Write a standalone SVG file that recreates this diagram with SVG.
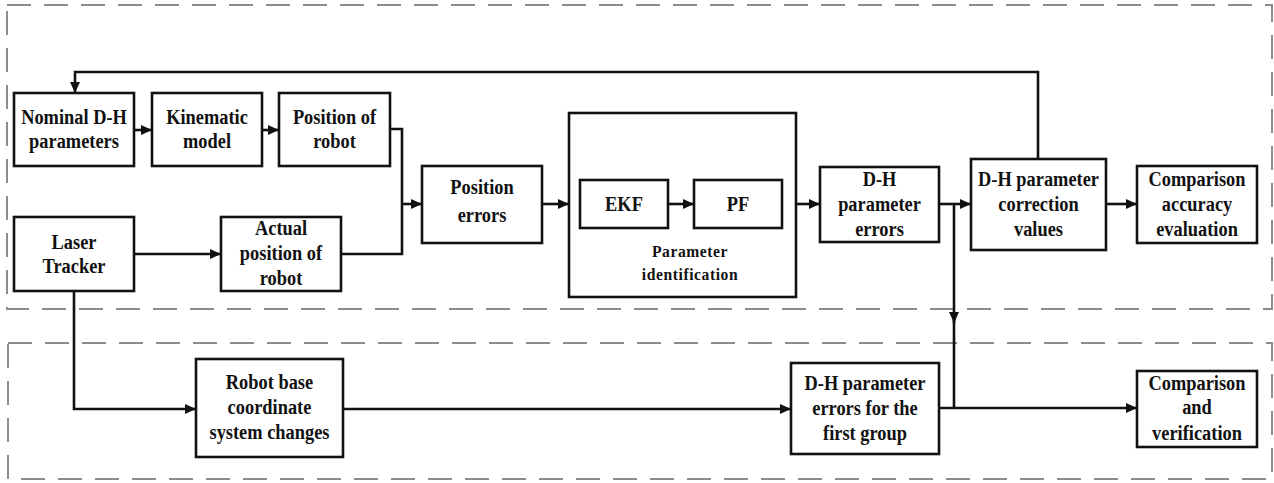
<svg xmlns="http://www.w3.org/2000/svg" width="1274" height="483" viewBox="0 0 1274 483">
<defs>
<style>
.region{fill:none;stroke:#8c8c8c;stroke-width:2;stroke-dasharray:24 13}
.box{fill:#fff;stroke:#111;stroke-width:2.6}
.t{font-family:"Liberation Serif","Times New Roman",serif;font-weight:bold;font-size:20px;fill:#111;text-anchor:middle}
.ts{font-size:17px;letter-spacing:0.6px}
.c{fill:none;stroke:#111;stroke-width:2.6}
.a{marker-end:url(#arr)}
</style>
<marker id="arr" markerUnits="userSpaceOnUse" markerWidth="12" markerHeight="10" refX="11" refY="5" orient="auto">
<path d="M0,0 L11,5 L0,10 z" fill="#111"/>
</marker>
</defs>
<rect width="1274" height="483" fill="#fff"/>
<g id="regions">
<rect class="region" x="7" y="5" width="1265" height="304"/>
<rect class="region" x="8" y="343" width="1264" height="136"/>
</g>
<g id="nominal">
<rect class="box" x="14" y="93" width="120" height="73"/>
<text class="t" transform="translate(74,124) scale(0.92,1)">Nominal D-H</text>
<text class="t" transform="translate(74,148) scale(0.92,1)">parameters</text>
</g>
<g id="kinematic">
<rect class="box" x="152" y="93" width="110" height="73"/>
<text class="t" transform="translate(207,124) scale(0.92,1)">Kinematic</text>
<text class="t" transform="translate(207,148) scale(0.92,1)">model</text>
</g>
<g id="position">
<rect class="box" x="279" y="93" width="111" height="73"/>
<text class="t" transform="translate(334.5,124) scale(0.92,1)">Position of</text>
<text class="t" transform="translate(334.5,148) scale(0.92,1)">robot</text>
</g>
<g id="laser">
<rect class="box" x="14" y="217" width="120" height="74"/>
<text class="t" transform="translate(74,249) scale(0.92,1)">Laser</text>
<text class="t" transform="translate(74,273) scale(0.92,1)">Tracker</text>
</g>
<g id="actual">
<rect class="box" x="221" y="217" width="120" height="74"/>
<text class="t" transform="translate(281,235) scale(0.92,1)">Actual</text>
<text class="t" transform="translate(281,260) scale(0.92,1)">position of</text>
<text class="t" transform="translate(281,285) scale(0.92,1)">robot</text>
</g>
<g id="poserr">
<rect class="box" x="422" y="166" width="120" height="77"/>
<text class="t" transform="translate(482,194) scale(0.92,1)">Position</text>
<text class="t" transform="translate(482,222) scale(0.92,1)">errors</text>
</g>
<g id="paramid">
<rect class="box" x="569" y="113" width="227" height="184"/>
<text class="t ts" transform="translate(690,257) scale(0.92,1)">Parameter</text>
<text class="t ts" transform="translate(690,280) scale(0.92,1)">identification</text>
</g>
<g id="ekf">
<rect class="box" x="580" y="180" width="88" height="48"/>
<text class="t" transform="translate(624,211) scale(0.92,1)">EKF</text>
</g>
<g id="pf">
<rect class="box" x="694" y="180" width="88" height="48"/>
<text class="t" transform="translate(738,211) scale(0.92,1)">PF</text>
</g>
<g id="dherr">
<rect class="box" x="820" y="167" width="119" height="75"/>
<text class="t" transform="translate(879.5,186) scale(0.92,1)">D-H</text>
<text class="t" transform="translate(879.5,211) scale(0.92,1)">parameter</text>
<text class="t" transform="translate(879.5,236) scale(0.92,1)">errors</text>
</g>
<g id="correction">
<rect class="box" x="971" y="159" width="135" height="91"/>
<text class="t" transform="translate(1038.5,186) scale(0.92,1)">D-H parameter</text>
<text class="t" transform="translate(1038.5,211) scale(0.92,1)">correction</text>
<text class="t" transform="translate(1038.5,236) scale(0.92,1)">values</text>
</g>
<g id="accuracy">
<rect class="box" x="1137" y="166" width="120" height="77"/>
<text class="t" transform="translate(1197,186) scale(0.92,1)">Comparison</text>
<text class="t" transform="translate(1197,211) scale(0.92,1)">accuracy</text>
<text class="t" transform="translate(1197,236) scale(0.92,1)">evaluation</text>
</g>
<g id="robotbase">
<rect class="box" x="196" y="359" width="147" height="98"/>
<text class="t" transform="translate(269.5,389) scale(0.92,1)">Robot base</text>
<text class="t" transform="translate(269.5,414) scale(0.92,1)">coordinate</text>
<text class="t" transform="translate(269.5,439) scale(0.92,1)">system changes</text>
</g>
<g id="firstgroup">
<rect class="box" x="791" y="363" width="148" height="91"/>
<text class="t" transform="translate(865,390) scale(0.92,1)">D-H parameter</text>
<text class="t" transform="translate(865,415) scale(0.92,1)">errors for the</text>
<text class="t" transform="translate(865,440) scale(0.92,1)">first group</text>
</g>
<g id="verification">
<rect class="box" x="1137" y="371" width="120" height="76"/>
<text class="t" transform="translate(1197,390) scale(0.92,1)">Comparison</text>
<text class="t" transform="translate(1197,414) scale(0.92,1)">and</text>
<text class="t" transform="translate(1197,440) scale(0.92,1)">verification</text>
</g>
<g id="connectors">
<path class="c a" d="M1038,159 V72 H75 V93"/>
<path class="c a" d="M134,130 H152"/>
<path class="c a" d="M262,130 H279"/>
<path class="c" d="M390,129 H402 V254 H341"/>
<path class="c a" d="M402,204 H422"/>
<path class="c a" d="M134,254 H221"/>
<path class="c a" d="M542,204 H569"/>
<path class="c a" d="M668,204 H694"/>
<path class="c a" d="M796,204 H820"/>
<path class="c a" d="M939,204 H971"/>
<path class="c a" d="M1106,204 H1137"/>
<path class="c a" d="M954,204 V323"/>
<path class="c" d="M954,318 V408"/>
<path class="c a" d="M939,408 H1137"/>
<path class="c a" d="M74,291 V409 H196"/>
<path class="c a" d="M343,409 H791"/>
</g>
</svg>
